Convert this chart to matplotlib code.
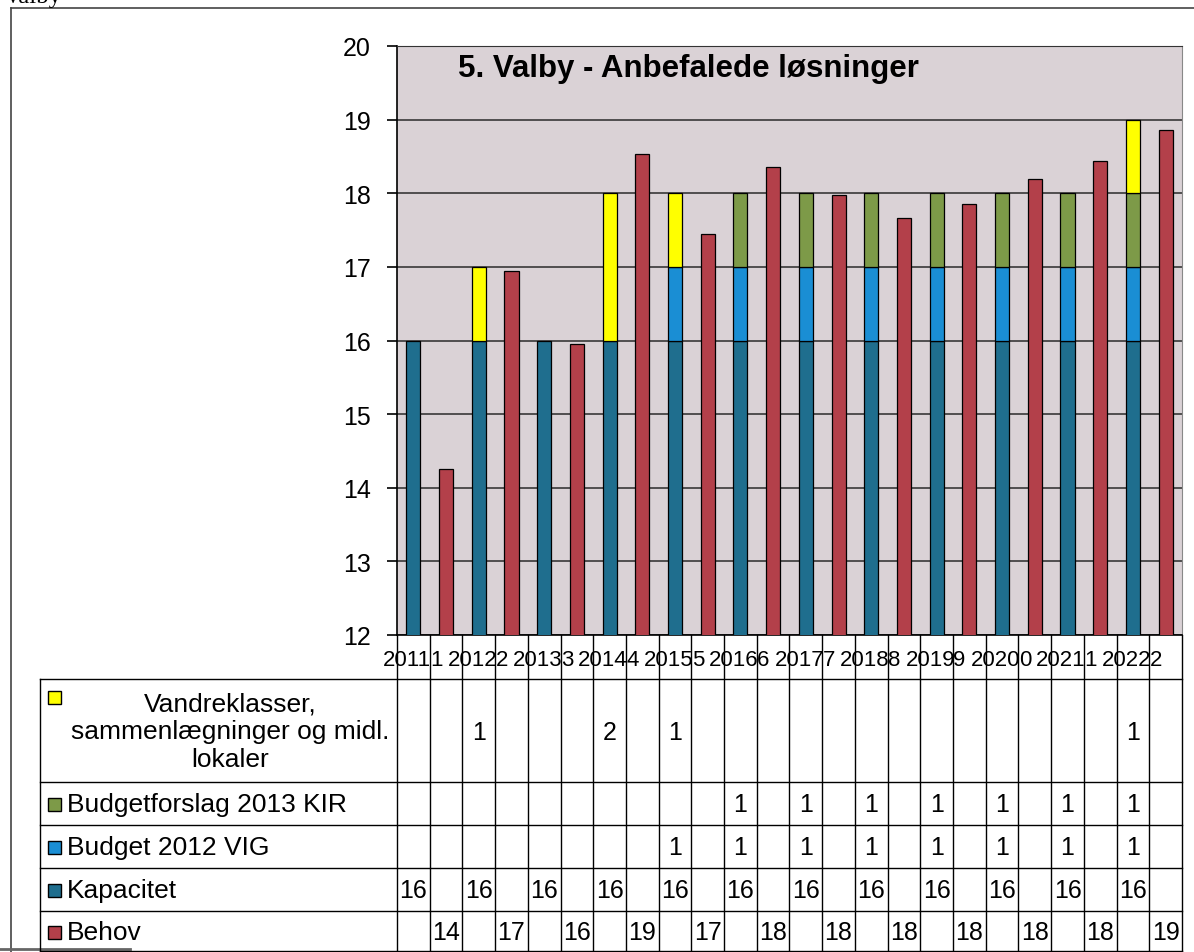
import matplotlib.pyplot as plt
import numpy as np
from matplotlib.patches import Rectangle

plt.rcParams['font.family'] = ['Liberation Sans', 'DejaVu Sans']

# data
years = [2011, 2012, 2013, 2014, 2015, 2016, 2017, 2018, 2019, 2020, 2021, 2022]
kapacitet = [16, 16, 16, 16, 16, 16, 16, 16, 16, 16, 16, 16]
budget_2012_vig = [0, 0, 0, 0, 1, 1, 1, 1, 1, 1, 1, 1]
budgetforslag_2013_kir = [0, 0, 0, 0, 0, 1, 1, 1, 1, 1, 1, 1]
vandreklasser = [0, 1, 0, 2, 1, 0, 0, 0, 0, 0, 0, 1]
behov = [14.25, 16.95, 15.95, 18.53, 17.45, 18.35, 17.98, 17.66, 17.86, 18.2, 18.44, 18.86]

stack_names = ['Kapacitet', 'Budget 2012 VIG', 'Budgetforslag 2013 KIR',
               'Vandreklasser,\nsammenlægninger og midl.\nlokaler']
stack_values = [kapacitet, budget_2012_vig, budgetforslag_2013_kir, vandreklasser]
stack_colors = ['#1f6e8e', '#1a8ed4', '#7d9a48', '#ffff00']
behov_color = '#b3404a'

W, H = 1194, 953
fig = plt.figure(figsize=(W / 100, H / 100), dpi=100)


def px_box(x0, y0, x1, y1):
    return [x0 / W, 1 - y1 / H, (x1 - x0) / W, (y1 - y0) / H]


# background layer in pixel coords (frame, cropped heading)
bg = fig.add_axes([0, 0, 1, 1], zorder=-1)
bg.set_xlim(0, W)
bg.set_ylim(H, 0)
bg.axis('off')
bg.plot([11, 11], [9, H], color='#444444', lw=1.2)
bg.plot([11, W], [9, 9], color='#444444', lw=1.2)
bg.plot([0, 130], [950, 950], color='#666666', lw=2)
bg.text(4, 3, 'Valby', family='Liberation Serif', fontsize=18, va='baseline', ha='left')

# chart
ax = fig.add_axes(px_box(397, 47, 1182, 636))
n = len(years)
xc = np.arange(n) * 2
xb = xc + 1
bw = 0.43

bottom = np.zeros(n)
for vals, col in zip(stack_values, stack_colors):
    vals = np.array(vals, dtype=float)
    idx = vals > 0
    ax.bar(xc[idx], vals[idx], bottom=bottom[idx], width=bw, color=col,
           edgecolor='black', linewidth=0.9, zorder=3)
    bottom += vals
ax.bar(xb, behov, width=bw, color=behov_color, edgecolor='black', linewidth=0.9, zorder=3)

ax.set_xlim(-0.5, 2 * n - 0.5)
ax.set_ylim(12, 20)
ax.set_yticks(range(12, 21))
ax.set_xticks([])
ax.set_facecolor('#dad2d6')
ax.grid(axis='y', color='#2a2a2a', linewidth=1.1, zorder=1)
ax.tick_params(axis='y', labelsize=18, length=7, width=1.2, pad=12, direction='out')
for s in ['left', 'bottom']:
    ax.spines[s].set_color('black')
    ax.spines[s].set_linewidth(1.2)
ax.spines['top'].set_color('#333333')
ax.spines['right'].set_color('#888888')
ax.text(0.078, 0.988, '5. Valby - Anbefalede løsninger', transform=ax.transAxes,
        fontsize=22.5, fontweight='bold', ha='left', va='top')

# data table below the chart (x in category units, y in pixels from top)
k = (2 * n) / (1182 - 397)


def px2x(px):
    return -0.5 + (px - 397) * k


tab = fig.add_axes(px_box(0, 636, W, H))
tab.set_xlim(px2x(0), px2x(W))
tab.set_ylim(H, 636)
tab.axis('off')

row_lines = [680, 783, 826, 869, 912, 952]
left = px2x(40)
right = 2 * n - 0.5
lc = 'black'
for y in row_lines:
    tab.plot([left, right], [y, y], color=lc, lw=1.0)
for b in np.arange(-0.5, 2 * n, 1.0):
    tab.plot([b, b], [636, 952], color=lc, lw=1.0)
tab.plot([left, left], [680, 952], color=lc, lw=1.0)

# category labels
for i, yr in enumerate(years):
    tab.text(xc[i] - 0.2, 660, str(yr), ha='center', va='center', fontsize=16)
    tab.text(xb[i] - 0.3, 660, str(yr)[-1], ha='center', va='center', fontsize=16)

# table rows, top to bottom
rows = [
    (stack_names[3], stack_colors[3], vandreklasser, xc),
    (stack_names[2], stack_colors[2], budgetforslag_2013_kir, xc),
    (stack_names[1], stack_colors[1], budget_2012_vig, xc),
    (stack_names[0], stack_colors[0], kapacitet, xc),
    ('Behov', behov_color, behov, xb),
]
sq = 13
for r, (name, col, vals, xs) in enumerate(rows):
    y0, y1 = row_lines[r], row_lines[r + 1]
    yc = (y0 + y1) / 2 + 1
    if r == 0:
        tab.add_patch(Rectangle((px2x(48), 698 - sq / 2), sq * k, sq, facecolor=col,
                                edgecolor='black', lw=1.0))
        tab.text(px2x(230), yc, name, ha='center', va='center', fontsize=19,
                 multialignment='center', linespacing=1.2)
    else:
        tab.add_patch(Rectangle((px2x(48), yc - sq / 2), sq * k, sq, facecolor=col,
                                edgecolor='black', lw=1.0))
        tab.text(px2x(67), yc, name, ha='left', va='center', fontsize=19)
    for x, v in zip(xs, vals):
        if v:
            tab.text(x, yc, f'{v:.0f}', ha='center', va='center', fontsize=18)

fig.savefig('out.png', dpi=100)
